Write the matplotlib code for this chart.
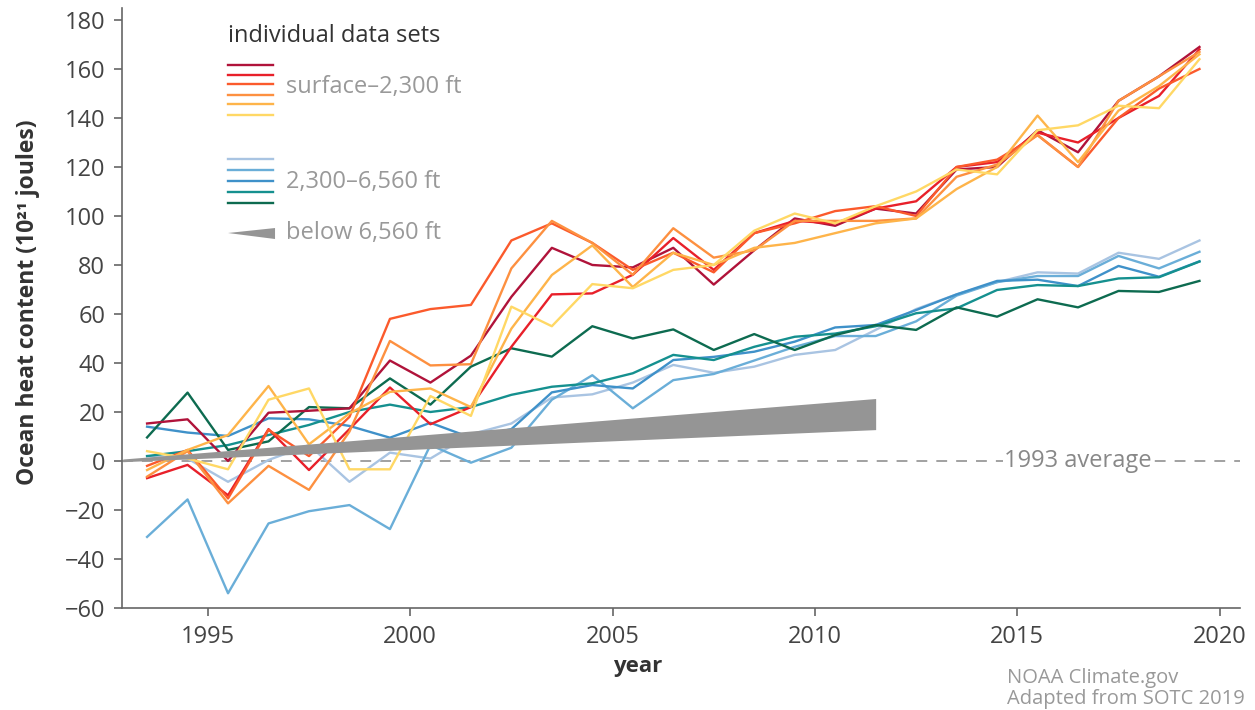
import matplotlib
matplotlib.use('Agg')
from matplotlib import pyplot as plt

plt.rcParams['font.family'] = ['Open Sans', 'DejaVu Sans']

years = [1993.5 + i for i in range(27)]

# surface - 2,300 ft data sets
dark_red = [15.3, 17, 0, 19.7, 20.5, 21.5, 41, 32, 43, 67, 87, 80, 79, 87, 72, 86, 99, 96, 103, 101, 119, 120, 135, 126, 147, 157, 169]
red = [-7, -1.6, -14, 13, -3.7, 13, 30, 15, 22, 46.6, 68, 68.4, 76, 91, 78, 93, 98, 97, 103, 106, 120, 122, 134, 130, 140, 149, 168]
orange_red = [-2, 4.5, -15.3, 12.7, 2, 18, 58, 62, 63.7, 90, 97, 89, 78, 85, 77, 93, 97, 102, 104, 100, 120, 123, 133, 120, 140, 152, 160]
orange = [-6.4, 4, -17.3, -2, -11.8, 12, 49, 39, 39.5, 78.6, 98, 89, 76, 95, 83, 86, 98, 98, 98, 99, 116, 121, 133, 120, 147, 157, 167]
light_orange = [-3.7, 4.5, 10.6, 30.6, 6.8, 19.4, 28.2, 29.6, 22, 54, 75.9, 88, 71, 85, 80, 87, 89, 93, 97, 99, 111, 120, 141, 122, 143, 153, 166]
yellow = [4, 1, -3.4, 25, 29.6, -3.4, -3.4, 26.5, 18.4, 63, 55, 72.2, 70.5, 78, 80, 94, 101, 97, 104, 110, 119, 117, 135, 137, 145, 144, 164]

# 2,300 - 6,560 ft data sets
light_blue = [2, 1, -8.5, 0.4, 6.5, -8.5, 3.4, 1, 10.9, 15.3, 25.9, 27.2, 32, 39.2, 36, 38.5, 43.3, 45.3, 53.5, 62, 68, 73, 77, 76.5, 85, 82.5, 90]
blue_a = [-31, -15.7, -54, -25.5, -20.5, -18, -27.8, 6.5, -0.7, 5.4, 25, 35, 21.5, 33, 35.5, 41, 46.6, 51, 51, 57, 67.5, 73, 75.5, 75.5, 83.7, 78.6, 85.4]
blue_b = [14, 11.6, 10.2, 17.4, 17, 14.3, 9.5, 15.6, 9.5, 13, 28, 31, 29.6, 41.2, 42.5, 44.6, 48.7, 54.5, 55.5, 61.6, 68, 73.5, 74, 71.4, 79.6, 75.2, 81.5]
teal = [2, 4, 6.5, 10.6, 14.7, 20, 23, 20, 22, 27, 30.3, 31.7, 35.8, 43.3, 41.2, 46.6, 50.7, 52, 55, 60.3, 62.3, 69.8, 71.8, 71.4, 74.5, 75, 81.4]
dark_green = [9.6, 27.9, 4.5, 8, 22, 21.5, 33.7, 23, 38.5, 46, 42.6, 55, 50, 53.7, 45.3, 51.8, 45.3, 51.4, 55.5, 53.5, 62.7, 58.9, 66, 62.7, 69.4, 69, 73.5]

# below 6,560 ft wedge
deep_years = [1992.9, 2011.5]
deep_low = [-0.3, 12.8]
deep_high = [0.8, 25.5]

warm = [dark_red, red, orange_red, orange, light_orange, yellow]
warm_colors = ['#b0133a', '#e8202a', '#fb5a2c', '#fd9040', '#feb44a', '#ffd865']
cool = [light_blue, blue_a, blue_b, teal, dark_green]
cool_colors = ['#a9c4e2', '#6aaed8', '#3f91c9', '#15908f', '#0d6b50']

fig = plt.figure(figsize=(12.55, 7.10), dpi=100)
ax = fig.add_axes([0.0972, 0.1437, 0.8908, 0.8454])

ax.axhline(0, color='#9a9a9a', lw=1.3, dashes=(6, 5), zorder=1)
ax.text(2016.5, 0, '1993 average', ha='center', va='center', fontsize=17, color='#888888',
        bbox=dict(facecolor='white', edgecolor='none', pad=1), zorder=1.5)

for vals, c in zip(cool, cool_colors):
    ax.plot(years, vals, color=c, lw=1.7, zorder=2)
for vals, c in zip(warm, warm_colors):
    ax.plot(years, vals, color=c, lw=1.7, zorder=2.5)

ax.fill_between(deep_years, deep_low, deep_high, color='#959595', lw=0, zorder=3)

ax.set_xlim(1992.88, 2020.5)
ax.set_ylim(-60, 185)
ax.set_xticks([1995, 2000, 2005, 2010, 2015, 2020])
ax.set_yticks(range(-60, 181, 20))

for s in ['top', 'right']:
    ax.spines[s].set_visible(False)
for s in ['left', 'bottom']:
    ax.spines[s].set_color('#666666')
    ax.spines[s].set_linewidth(1.2)
ax.tick_params(direction='out', length=6, width=1.2, color='#666666', labelcolor='#444444',
               labelsize=17, pad=6)

ax.set_xlabel('year', fontsize=16, fontweight='bold', color='#333333')
ax.xaxis.set_label_coords(0.4615, -0.08)
ax.set_ylabel('Ocean heat content (10²¹ joules)', fontsize=16.5, fontweight='bold', color='#333333')
ax.yaxis.set_label_coords(-0.073, 0.51)

# hand-made legend
tr = ax.transAxes
ax.text(0.0948, 0.953, 'individual data sets', transform=tr, fontsize=17, color='#333333', va='center')
for yy, c in zip([0.9046, 0.888, 0.873, 0.8546, 0.8397, 0.8213], warm_colors):
    ax.plot([0.0948, 0.135], [yy, yy], transform=tr, color=c, lw=1.7)
ax.text(0.1467, 0.868, 'surface–2,300 ft', transform=tr, fontsize=17, color='#999999', va='center')
for yy, c in zip([0.748, 0.7297, 0.7114, 0.693, 0.6747], cool_colors):
    ax.plot([0.0948, 0.135], [yy, yy], transform=tr, color=c, lw=1.7)
ax.text(0.1467, 0.7097, '2,300–6,560 ft', transform=tr, fontsize=17, color='#999999', va='center')
ax.fill([0.0948, 0.1369, 0.1369], [0.6247, 0.633, 0.6147], transform=tr, color='#959595', lw=0)
ax.text(0.1467, 0.6247, 'below 6,560 ft', transform=tr, fontsize=17, color='#999999', va='center')

fig.text(1007 / 1255, 1 - 678 / 710, 'NOAA Climate.gov', fontsize=14.5, color='#999999', va='center')
fig.text(1007 / 1255, 1 - 699 / 710, 'Adapted from SOTC 2019', fontsize=14.5, color='#999999', va='center')

fig.savefig('out.png', dpi=100)
